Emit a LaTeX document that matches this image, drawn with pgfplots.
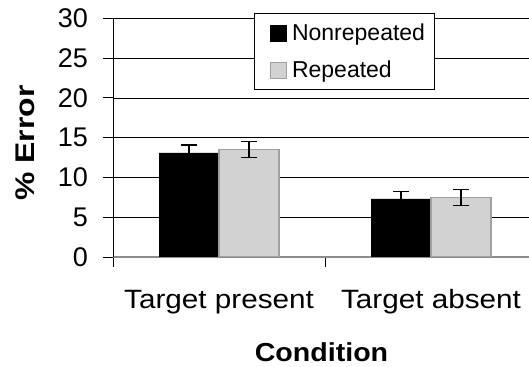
\documentclass[border=0pt]{standalone}
\usepackage{pgfplots}
\pgfplotsset{compat=1.18}
\usepackage{fontspec}
\setmainfont{Liberation Sans}
\newfontfamily\catfont[FakeStretch=1.12]{Liberation Sans}
\newfontfamily\condfont[FakeStretch=1.1]{Liberation Sans}
\newfontfamily\errfont[FakeStretch=1.18]{Liberation Sans}
\definecolor{repfill}{HTML}{D2D2D2}
\definecolor{repdraw}{HTML}{A0A0A0}
\definecolor{zeroline}{HTML}{8C8C8C}
\begin{document}
\begin{tikzpicture}
\useasboundingbox (0,0) rectangle (529bp,367bp);
\clip (0,0) rectangle (529bp,367bp);
\begin{axis}[
  at={(113bp,110bp)}, anchor=south west,
  scale only axis, width=424bp, height=238.5bp,
  xmin=0, xmax=2, ymin=0, ymax=30,
  axis x line=bottom, axis y line=left,
  x axis line style={draw=zeroline, line width=1.5bp, -},
  y axis line style={draw=black, line width=1bp, -},
  xtick={0,1,2}, xticklabels={},
  ytick={0,5,...,30},
  tick align=outside, major tick length=10bp,
  tick style={draw=black, line width=1bp},
  ymajorgrids, grid style={draw=black, line width=0.8bp},
  extra x ticks={0.5,1.5},
  extra x tick labels={Target present, Target absent},
  extra x tick style={major tick length=0pt, tick style={draw=none},
     xticklabel style={anchor=base, yshift=-51bp, inner sep=0pt,
       font=\catfont\fontsize{26.5bp}{30bp}\selectfont}},
  /pgf/number format/assume math mode=true,
  yticklabel style={anchor=east, inner sep=0pt, xshift=-15bp,
     font=\fontsize{27bp}{30bp}\selectfont},
  xlabel={\textbf{Condition}},
  xlabel style={at={(axis description cs:0.4917,-0.439)}, anchor=base,
     font=\condfont\fontsize{26bp}{30bp}\selectfont},
  ylabel={\textbf{\% Error}},
  ylabel style={at={(axis description cs:-0.2075,0.478)}, anchor=center, rotate=0,
     font=\errfont\fontsize{27bp}{30bp}\selectfont},
  ybar=0pt, bar width=60bp,
  legend style={at={(axis description cs:0.3335,1.021)}, anchor=north west,
     draw=black, line width=1bp, fill=white,
     font=\fontsize{23bp}{26bp}\selectfont,
     inner xsep=6.5bp, inner ysep=7.5bp, row sep=14bp,
     nodes={inner sep=2.5bp}, /tikz/column sep=3bp,
     legend cell align=left},
  legend image code/.code={\path (0bp,0bp); \draw[#1, line width=0.8bp] (8bp,-8bp) rectangle (24bp,8bp);},
  error bars/error bar style={draw=black, line width=1.3bp},
  error bars/error mark options={draw=black, rotate=90, mark size=8bp, line width=1.3bp},
]
\addplot[fill=black, draw=black,
  error bars/.cd, y dir=both, y explicit]
  coordinates {(0.5,13.1) +- (0,1.0) (1.5,7.3) +- (0,0.9)};
\addlegendentry{Nonrepeated}
\addplot[fill=repfill, draw=repdraw, line width=1.5bp,
  error bars/.cd, y dir=both, y explicit]
  coordinates {(0.5,13.5) +- (0,1.0) (1.5,7.5) +- (0,1.0)};
\addlegendentry{Repeated}
\end{axis}
\end{tikzpicture}
\end{document}
